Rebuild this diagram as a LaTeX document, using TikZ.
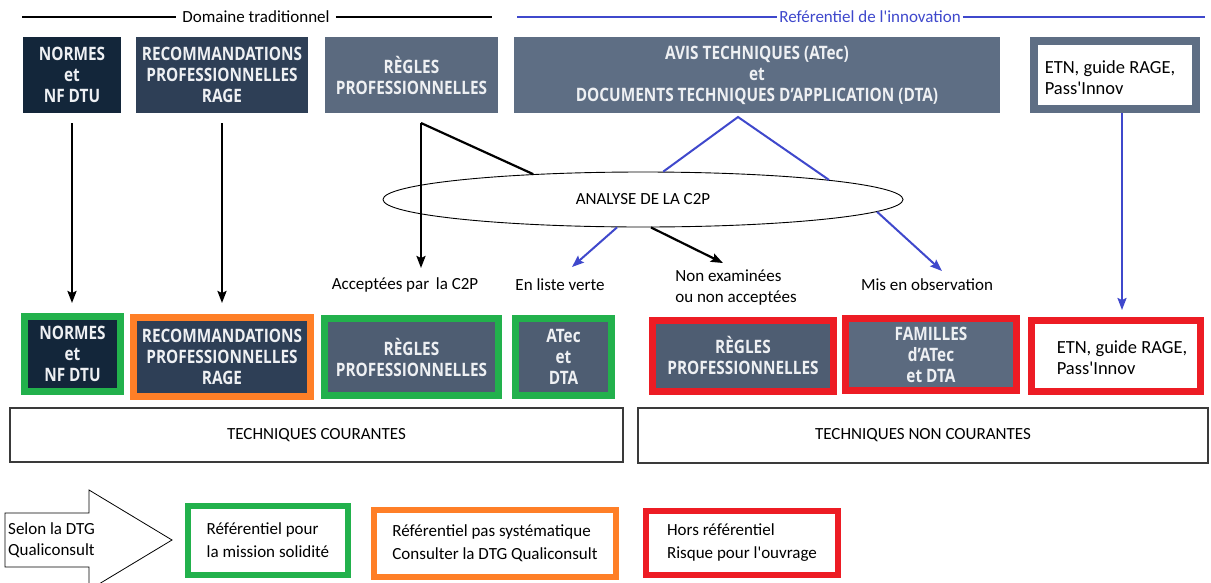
\documentclass[tikz,border=0pt]{standalone}
\usepackage{fontspec}
\setmainfont{Carlito}
\newfontfamily\boxfont{Open Sans}[FakeStretch=0.83]
\usetikzlibrary{arrows.meta,shapes.geometric}
\definecolor{navy}{HTML}{13263A}
\definecolor{slateA}{HTML}{2E3F56}
\definecolor{slateB}{HTML}{5B6A7F}
\definecolor{slateC}{HTML}{4E5D72}
\definecolor{slateD}{HTML}{5E6E84}
\definecolor{boxtxt}{HTML}{EEF0F3}
\definecolor{grn}{HTML}{22B14C}
\definecolor{org}{HTML}{FF7F27}
\definecolor{rd}{HTML}{ED1C24}
\definecolor{blu}{HTML}{3F48CC}
\definecolor{frame}{HTML}{3A3A3A}
\tikzset{
  dark/.style={fill=#1, text=boxtxt, font=\boxfont\bfseries\fontsize{18.5}{21}\selectfont, align=center, inner sep=0pt},
  plain/.style={font=\fontsize{17}{21}\selectfont, inner sep=2pt},
  lite/.style={fill=white, inner sep=0pt},
  litetxt/.style={text=black, font=\fontsize{18.5}{21}\selectfont, align=left, inner sep=0pt},
  tech/.style={draw=frame, line width=1.2pt, fill=white, font=\fontsize{17}{21}\selectfont, inner sep=0pt},
  legbox/.style={draw=#1, line width=6pt, fill=white, font=\fontsize{17}{23}\selectfont, align=left, inner sep=0pt},
  blkline/.style={black, line width=2.2pt},
  blkar/.style={black, line width=2.2pt, -{Stealth[length=12pt,width=9pt,inset=2pt]}},
  bluline/.style={blu, line width=2pt},
  bluar/.style={blu, line width=2pt, -{Stealth[length=12pt,width=9pt,inset=2pt]}},
}
\begin{document}
\begin{tikzpicture}[x=1pt,y=-1pt]
\useasboundingbox[fill=white] (0,0) rectangle (1211,582);

% header lines
\node[plain, inner sep=6pt] (t1) at (256,17) {Domaine traditionnel};
\coordinate (t1a) at (22,17);
\coordinate (t1b) at (492,17);
\draw[black, line width=1.8pt] (t1a) -- (t1.west);
\draw[black, line width=1.8pt] (t1.east) -- (t1b);
\node[plain, text=blu] (t2) at (870,17) {Reférentiel de l\textquotesingle innovation};
\coordinate (t2a) at (517,17);
\coordinate (t2b) at (1205,17);
\draw[blu, line width=1.5pt] (t2a) -- (t2.west);
\draw[blu, line width=1.5pt] (t2.east) -- (t2b);

% top row
\node[dark=navy, minimum width=98pt, minimum height=76pt] (n1) at (72,75) {NORMES\\et\\NF DTU};
\node[dark=slateA, minimum width=172pt, minimum height=76pt] (n2) at (222,75) {RECOMMANDATIONS\\PROFESSIONNELLES\\RAGE};
\node[dark=slateB, minimum width=173pt, minimum height=76pt] (n3) at (411.5,75) {RÈGLES\\PROFESSIONNELLES};
\node[dark=slateD, minimum width=486pt, minimum height=76pt] (n4) at (757,75) {AVIS TECHNIQUES (ATec)\\et\\DOCUMENTS TECHNIQUES D’APPLICATION (DTA)};
\node[lite, draw=slateD, line width=8pt, minimum width=162pt, minimum height=68pt] (n5) at (1115,75) {};
\node[litetxt] (n5t) at (1110,78) {ETN, guide RAGE,\\Pass\textquotesingle Innov};

% ellipse
\node[draw, ellipse, line width=0.9pt, minimum width=520pt, minimum height=55pt, inner sep=0pt, font=\fontsize{17}{21}\selectfont] (ell) at (643,199.5) {ANALYSE DE LA C2P};

% labels
\node[plain] (acc) at (405,285) {Acceptées par \,la C2P};
\node[plain] (lv) at (560,285) {En liste verte};
\node[plain, align=left] (ne) at (736,288) {Non examinées\\ou non acceptées};
\node[plain] (mo) at (927,285) {Mis en observation};

% bottom row
\node[dark=navy, draw=grn, line width=7pt, minimum width=96pt, minimum height=75pt] (b1) at (72.5,354) {NORMES\\et\\NF DTU};
\node[dark=slateA, draw=org, line width=7pt, minimum width=177pt, minimum height=79pt] (b2) at (222,357) {RECOMMANDATIONS\\PROFESSIONNELLES\\RAGE};
\node[dark=slateC, draw=grn, line width=7pt, minimum width=174pt, minimum height=77pt] (b3) at (411.5,357) {RÈGLES\\PROFESSIONNELLES};
\node[dark=slateC, draw=grn, line width=7pt, minimum width=96pt, minimum height=77pt] (b4) at (563.5,357) {ATec\\et\\DTA};
\node[dark=slateC, draw=rd, line width=7pt, minimum width=181pt, minimum height=71pt] (b5) at (743,355.5) {RÈGLES\\PROFESSIONNELLES};
\node[dark=slateB, draw=rd, line width=7pt, minimum width=171pt, minimum height=72pt] (b6) at (931,354.5) {FAMILLES\\d’ATec\\et DTA};
\node[lite, draw=rd, line width=7pt, minimum width=169pt, minimum height=71pt] (b7) at (1116,356) {};
\node[litetxt] (b7t) at (1122,358) {ETN, guide RAGE,\\Pass\textquotesingle Innov};

% techniques
\node[tech, minimum width=613pt, minimum height=54pt] (tc) at (316.5,435) {TECHNIQUES COURANTES};
\node[tech, minimum width=570pt, minimum height=55pt] (tnc) at (923,435.5) {TECHNIQUES NON COURANTES};

% connectors
\draw[blkar, shorten <=10pt, shorten >=10pt] (n1.south) -- (n1.south |- b1.north);
\draw[blkar, shorten <=10pt, shorten >=11pt] (n2.south) -- (n2.south |- b2.north);
\coordinate (r3) at (421,123);
\coordinate (r3e) at (421,268);
\draw[blkline] (r3) -- (ell.167.6);
\draw[blkar] (r3) -- (r3e);
\coordinate (a4) at (738,117);
\draw[bluline] (ell.54.4) -- (a4) -- (ell.6.5);
\coordinate (lvt) at (572,267);
\draw[bluar] (ell.227.6) -- (lvt);
\coordinate (net) at (723,263);
\draw[blkar] (ell.286) -- (net);
\coordinate (mot) at (942,271);
\draw[bluar] (ell.-3.6) -- (mot);
\coordinate (etn) at (1122,113);
\draw[bluar, shorten >=7pt] (etn) -- (etn |- b7.north);

% legend
\draw[black, line width=0.8pt] (5,513) -- (89,513) -- (89,490) -- (172,540) -- (89,590) -- (89,567) -- (5,567) -- cycle;
\node[plain, align=left, anchor=west, inner sep=0pt] (sel) at (8,540) {Selon la DTG\\Qualiconsult};
\node[legbox=grn, minimum width=160pt, minimum height=69pt] (lg1) at (268,540.5) {Référentiel pour\\la mission solidité};
\node[legbox=org, minimum width=242pt, minimum height=67pt] (lg2) at (495,543.5) {Référentiel pas systématique\\Consulter la DTG Qualiconsult};
\node[legbox=rd, minimum width=192pt, minimum height=64pt] (lg3) at (742,543) {Hors référentiel\\Risque pour l\textquotesingle ouvrage};
\end{tikzpicture}
\end{document}
